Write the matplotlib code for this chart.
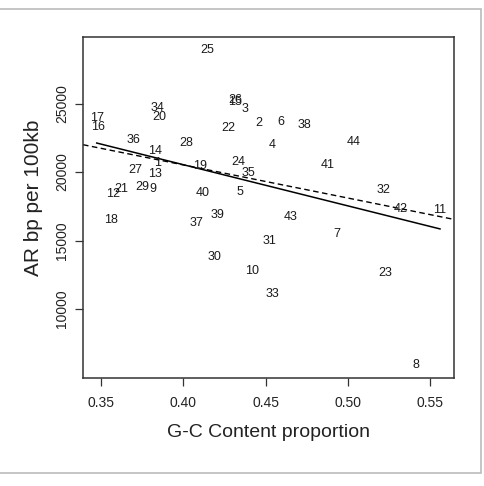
import numpy as np
import matplotlib
matplotlib.use("Agg")
import matplotlib.pyplot as plt
from matplotlib.patches import Rectangle

plt.rcParams['font.family'] = ['Liberation Sans', 'DejaVu Sans']

# region number, G-C proportion, AR bp per 100kb
ids = list(range(1, 45))
gc = [0.3841, 0.4460, 0.4377, 0.4539, 0.4344, 0.4590, 0.4935, 0.5414, 0.3812, 0.4417,
      0.5560, 0.3571, 0.3825, 0.3825, 0.4312, 0.3484, 0.3473, 0.3561, 0.4103, 0.3855,
      0.3625, 0.4271, 0.5224, 0.4332, 0.4146, 0.4316, 0.3709, 0.4018, 0.3753, 0.4190,
      0.4522, 0.5219, 0.4540, 0.3845, 0.4393, 0.3699, 0.4079, 0.4734, 0.4210, 0.4119,
      0.4876, 0.5323, 0.4653, 0.5037]
ar = [20636, 23542, 24589, 21968, 18542, 23666, 15490, 5879, 18733, 12760,
      17225, 18418, 19831, 21566, 25100, 23300, 23930, 16493, 20416, 23981,
      18784, 23176, 12613, 20760, 28937, 25250, 20124, 22151, 18879, 13806,
      14956, 18689, 11098, 24691, 19904, 22349, 16273, 23418, 16830, 18469,
      20490, 17320, 16734, 22202]

xticks = [0.35, 0.40, 0.45, 0.50, 0.55]
yticks = [10000, 15000, 20000, 25000]

x = np.array(gc)
y = np.array(ar)


# Huber regression by reweighting (like rlm)
def huber_fit(x, y, k=1.345, it=50):
    X = np.column_stack([np.ones_like(x), x])
    w = np.ones_like(y)
    for _ in range(it):
        W = np.sqrt(w)
        beta = np.linalg.lstsq(X * W[:, None], y * W, rcond=None)[0]
        res = y - X @ beta
        s = np.median(np.abs(res)) / 0.6745
        u = np.abs(res / s)
        w = np.where(u <= k, 1.0, k / u)
    return beta


fig = plt.figure(figsize=(4.84, 4.86), dpi=100)
ax = fig.add_axes([0.1715, 0.222, 0.766, 0.702])

for i, xv, yv in zip(ids, x, y):
    ax.text(xv, yv, str(i), ha='center', va='center', fontsize=9, color='#1a1a1a')

# least squares fit over the data range
slope, icpt = np.polyfit(x, y, 1)
xs = np.sort(x)
ax.plot(xs, icpt + slope * xs, color='black', lw=1.1)

# robust fit across the whole panel
b0, b1 = huber_fit(x, y)
ax.axline((0.35, b0 + b1 * 0.35), slope=b1, color='black', lw=1.0, ls=(0, (4, 2.5)))

pad_x = 0.04 * (x.max() - x.min())
pad_y = 0.04 * (y.max() - y.min())
ax.set_xlim(x.min() - pad_x, x.max() + pad_x)
ax.set_ylim(y.min() - pad_y, y.max() + pad_y)

ax.set_xticks(xticks)
ax.set_xticklabels(['%.2f' % t for t in xticks])
ax.set_yticks(yticks)
ax.set_yticklabels([str(t) for t in yticks], rotation=90, va='center')
ax.tick_params(length=6, width=0.9, labelsize=10, pad=7, colors='#333333', labelcolor='#222222')
ax.tick_params(axis='y', pad=4)
for s in ax.spines.values():
    s.set_color('#333333')
    s.set_linewidth(1.1)

ax.set_xlabel('G-C Content proportion', fontsize=14, labelpad=10, color='#222222')
ax.set_ylabel('AR bp per 100kb', fontsize=15, color='#222222')
ax.yaxis.set_label_coords(-0.108, 0.528)

# light grey frame around the figure
fig.patches.append(Rectangle((-0.01, 13 / 486), 480.5 / 484 + 0.01, (473 - 9) / 486,
                             transform=fig.transFigure, fill=False,
                             edgecolor='#bbbbbb', lw=1.2))

fig.savefig('out.png', dpi=100)
